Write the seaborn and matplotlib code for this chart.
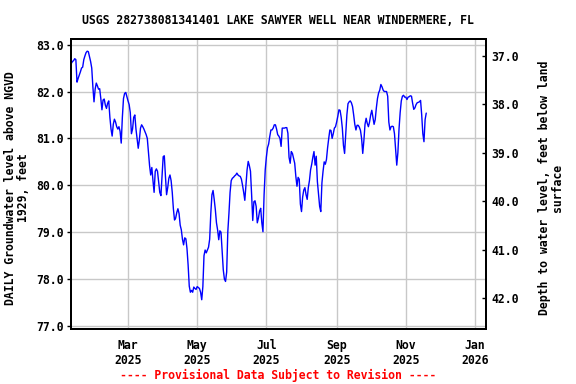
import numpy as np
import pandas as pd
import matplotlib
matplotlib.use("Agg")
import matplotlib.pyplot as plt
import matplotlib.dates as mdates
import seaborn as sns

# Day of year (2025) and daily groundwater level (ft above NGVD 1929)
day_of_year = list(range(10, 324))
levels = [
    82.60, 82.64, 82.66, 82.70, 82.68, 82.20, 82.28, 82.35, 82.42, 82.50,  # 10-19
    82.52, 82.68, 82.76, 82.83, 82.86, 82.85, 82.75, 82.64, 82.50, 82.10,  # 20-29
    81.78, 82.05, 82.18, 82.12, 82.05, 82.06, 81.85, 81.61, 81.82, 81.84,  # 30-39
    81.71, 81.64, 81.75, 81.80, 81.45, 81.20, 81.05, 81.30, 81.41, 81.35,  # 40-49
    81.25, 81.20, 81.25, 81.15, 80.90, 81.45, 81.85, 81.96, 81.98, 81.89,  # 50-59
    81.80, 81.72, 81.55, 81.10, 81.20, 81.45, 81.50, 81.20, 81.00, 80.79,  # 60-69
    80.97, 81.22, 81.29, 81.25, 81.20, 81.14, 81.08, 81.00, 80.70, 80.42,  # 70-79
    80.22, 80.38, 80.10, 79.85, 80.30, 80.35, 80.30, 80.08, 79.85, 79.78,  # 80-89
    80.20, 80.61, 80.63, 80.19, 79.80, 79.95, 80.15, 80.22, 80.10, 79.85,  # 90-99
    79.50, 79.26, 79.30, 79.42, 79.50, 79.40, 79.15, 79.05, 78.85, 78.73,  # 100-109
    78.88, 78.86, 78.65, 78.30, 77.85, 77.72, 77.76, 77.72, 77.83, 77.80,  # 110-119
    77.78, 77.84, 77.82, 77.80, 77.72, 77.56, 77.84, 78.50, 78.62, 78.56,  # 120-129
    78.62, 78.68, 78.85, 79.40, 79.80, 79.89, 79.70, 79.48, 79.20, 79.05,  # 130-139
    78.84, 79.03, 79.00, 78.60, 78.20, 78.00, 77.95, 78.15, 79.01, 79.40,  # 140-149
    79.85, 80.10, 80.15, 80.17, 80.20, 80.22, 80.26, 80.22, 80.20, 80.19,  # 150-159
    80.13, 80.00, 79.85, 79.68, 80.00, 80.33, 80.51, 80.42, 80.30, 79.80,  # 160-169
    79.25, 79.65, 79.67, 79.55, 79.20, 79.30, 79.45, 79.51, 79.20, 79.01,  # 170-179
    79.80, 80.33, 80.60, 80.80, 80.88, 81.04, 81.18, 81.18, 81.22, 81.29,  # 180-189
    81.29, 81.20, 81.08, 81.05, 81.00, 80.83, 81.22, 81.22, 81.22, 81.23,  # 190-199
    81.23, 81.11, 80.60, 80.47, 80.72, 80.68, 80.58, 80.47, 80.19, 79.98,  # 200-209
    80.17, 80.13, 79.60, 79.44, 79.75, 79.90, 79.95, 79.80, 79.70, 79.95,  # 210-219
    80.10, 80.33, 80.45, 80.60, 80.72, 80.43, 80.62, 80.08, 79.82, 79.55,  # 220-229
    79.44, 80.05, 80.30, 80.50, 80.45, 80.55, 80.80, 81.00, 81.18, 81.17,  # 230-239
    81.00, 81.10, 81.22, 81.25, 81.35, 81.47, 81.61, 81.60, 81.45, 81.22,  # 240-249
    80.85, 80.68, 81.10, 81.50, 81.74, 81.78, 81.80, 81.76, 81.68, 81.50,  # 250-259
    81.30, 81.18, 81.28, 81.28, 81.24, 81.17, 81.00, 80.68, 80.95, 81.30,  # 260-269
    81.43, 81.32, 81.25, 81.35, 81.50, 81.60, 81.45, 81.30, 81.40, 81.65,  # 270-279
    81.85, 81.97, 82.03, 82.15, 82.10, 82.03, 82.00, 82.00, 82.00, 81.90,  # 280-289
    81.35, 81.18, 81.25, 81.26, 81.25, 81.10, 80.75, 80.43, 80.70, 81.20,  # 290-299
    81.55, 81.80, 81.90, 81.92, 81.88, 81.88, 81.83, 81.88, 81.89, 81.91,  # 300-309
    81.90, 81.75, 81.62, 81.65, 81.72, 81.76, 81.77, 81.78, 81.81, 81.50,  # 310-319
    81.10, 80.93, 81.40, 81.54,                                            # 320-323
]

tick_dates = ["2025-03-01", "2025-05-01", "2025-07-01", "2025-09-01", "2025-11-01", "2026-01-01"]
tick_labels = ["Mar\n2025", "May\n2025", "Jul\n2025", "Sep\n2025", "Nov\n2025", "Jan\n2026"]
left_ticks = [77.0, 78.0, 79.0, 80.0, 81.0, 82.0, 83.0]
right_ticks = [37.0, 38.0, 39.0, 40.0, 41.0, 42.0]

title = "USGS 282738081341401 LAKE SAWYER WELL NEAR WINDERMERE, FL"
left_label = "DAILY Groundwater level above NGVD\n1929, feet"
right_label = "Depth to water level, feet below land\nsurface"
footer = "---- Provisional Data Subject to Revision ----"

sns.set_style("white")
plt.rcParams["font.family"] = ["DejaVu Sans Mono"]
plt.rcParams["font.weight"] = "bold"
plt.rcParams["text.color"] = "black"
plt.rcParams["xtick.color"] = "black"
plt.rcParams["ytick.color"] = "black"
plt.rcParams["axes.labelcolor"] = "black"

dates = pd.to_datetime("2025-01-01") + pd.to_timedelta(np.array(day_of_year) - 1, unit="D")
df = pd.DataFrame({"date": dates, "level": levels})

fig = plt.figure(figsize=(5.76, 3.84), dpi=100)
ax = fig.add_axes([71 / 576, 1 - 329 / 384, (486 - 71) / 576, (329 - 39) / 384])

sns.lineplot(data=df, x="date", y="level", ax=ax, color="#0000ff", linewidth=1.0,
             estimator=None, sort=False)

ax.set_xlim(pd.Timestamp("2025-01-09 17:00"), pd.Timestamp("2026-01-10 17:00"))
ax.set_ylim(76.936, 83.12)
ax.set_xticks(pd.to_datetime(tick_dates))
ax.set_xticklabels(tick_labels)
ax.set_yticks(left_ticks)
ax.set_yticklabels([f"{v:.1f}" for v in left_ticks])
ax.grid(True, color="#c8c8c8", linewidth=1.0)
ax.set_xlabel("")
ax.set_ylabel("")
ax.tick_params(axis="x", length=0, pad=7, labelsize=8.3, colors="black")
ax.tick_params(axis="y", length=3, width=1, direction="out", pad=2.5, labelsize=8.3,
               colors="black")
for s in ax.spines.values():
    s.set_color("black")
    s.set_linewidth(1.4)

ax2 = ax.twinx()
ax2.set_ylim(42.64, 36.649)
ax2.set_yticks(right_ticks)
ax2.set_yticklabels([f"{v:.1f}" for v in right_ticks])
ax2.tick_params(axis="y", length=3, width=1, direction="in", pad=4, labelsize=8.3,
                colors="black")
ax2.grid(False)
for s in ax2.spines.values():
    s.set_color("black")
    s.set_linewidth(1.4)

fig.text(278 / 576, 1 - 20 / 384, title, ha="center", va="center", fontsize=8.3,
         fontweight="bold", color="black")
fig.text(17 / 576, 1 - 188 / 384, left_label, rotation=90, ha="center", va="center",
         multialignment="center", fontsize=8.3, fontweight="bold", linespacing=1.0,
         color="black")
fig.text(551 / 576, 1 - 188 / 384, right_label, rotation=90, ha="center", va="center",
         multialignment="center", fontsize=8.3, fontweight="bold", linespacing=1.0,
         color="black")
fig.text(278 / 576, 1 - 375 / 384, footer, ha="center", va="center", fontsize=8.3,
         fontweight="bold", color="#ff0000")

fig.savefig("out.png", dpi=100)
